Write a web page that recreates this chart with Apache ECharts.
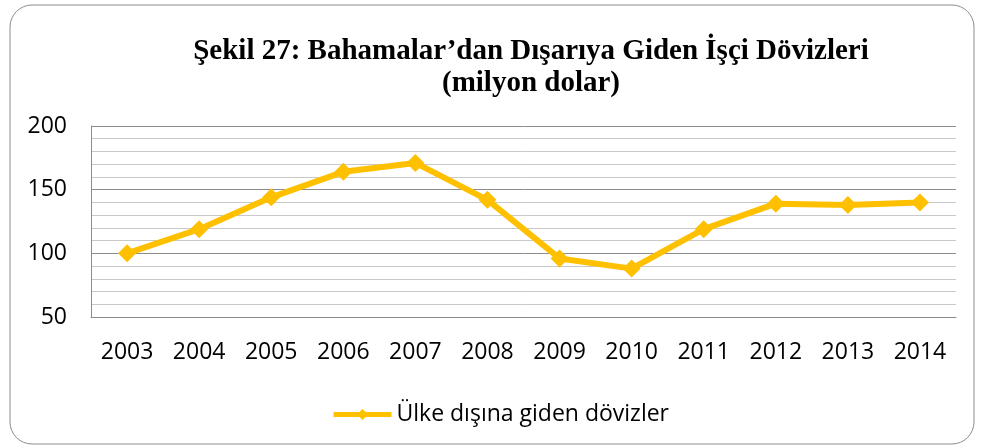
<!DOCTYPE html>
<html><head><meta charset="utf-8">
<script src="https://cdn.jsdelivr.net/npm/echarts@6/dist/echarts.min.js"></script>
<style>html,body{margin:0;padding:0;background:#fff}#c{width:981px;height:446px}</style>
</head><body><div id="c"></div>
<script>
const categories = ['2003','2004','2005','2006','2007','2008','2009','2010','2011','2012','2013','2014'];
const values = [100, 119, 144, 164, 171, 142, 96, 88, 119, 139, 138, 140];
const seriesName = 'Ülke dışına giden dövizler';
const titleText = 'Şekil 27: Bahamalar’dan Dışarıya Giden İşçi Dövizleri\n(milyon dolar)';

const chart = echarts.init(document.getElementById('c'));
chart.setOption({
  animation: false,
  backgroundColor: '#fff',
  graphic: [{
    type: 'rect', shape: {x: 10, y: 5, width: 964, height: 439, r: 22},
    style: {fill: 'none', stroke: '#8c8c8c', lineWidth: 1}, z: -1
  }],
  title: {
    text: titleText, left: 526, top: 31, textAlign: 'center',
    textStyle: {fontFamily: 'Liberation Serif', fontWeight: 'bold', fontSize: 29, color: '#000', lineHeight: 32}
  },
  legend: {
    data: [seriesName], left: 326, top: 398,
    itemWidth: 58, itemHeight: 14, itemGap: 2,
    lineStyle: {width: 5},
    textStyle: {fontFamily: 'Open Sans', fontSize: 23, color: '#000'}
  },
  grid: {left: 91, right: 25, top: 126, bottom: 129, containLabel: false},
  xAxis: {
    type: 'category', data: categories, boundaryGap: true,
    axisLine: {show: true, lineStyle: {color: '#8c8c8c', width: 1}},
    axisTick: {show: false},
    axisLabel: {fontFamily: 'Open Sans', fontSize: 23, color: '#000', margin: 24}
  },
  yAxis: {
    type: 'value', min: 50, max: 200, interval: 50,
    axisLine: {show: true, lineStyle: {color: '#8c8c8c', width: 1}},
    axisTick: {show: false},
    axisLabel: {fontFamily: 'Open Sans', fontSize: 23, color: '#000', margin: 24},
    splitLine: {show: true, lineStyle: {color: '#8c8c8c', width: 1}},
    minorTick: {show: false, splitNumber: 5},
    minorSplitLine: {show: true, lineStyle: {color: '#c8c8c8', width: 1}}
  },
  series: [{
    name: seriesName, type: 'line', data: values,
    symbol: 'diamond', symbolSize: 18,
    lineStyle: {color: '#FFC000', width: 6},
    itemStyle: {color: '#FFC000'}
  }]
});
</script></body></html>
